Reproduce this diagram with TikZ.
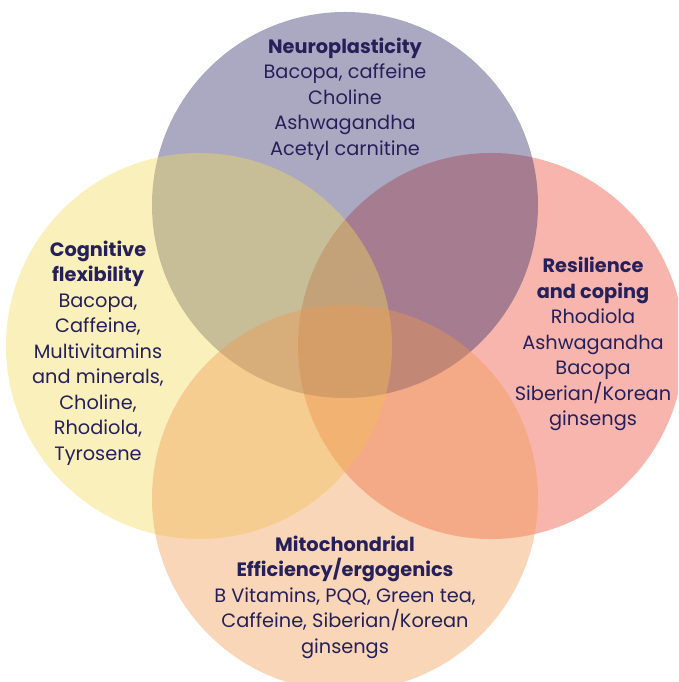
\documentclass[tikz,border=0pt]{standalone}
\usepackage{fontspec}
\setmainfont{Poppins}
\usetikzlibrary{positioning}

\definecolor{ink}{RGB}{38,32,90}
\definecolor{cpurple}{RGB}{45,40,100}
\definecolor{cyellow}{RGB}{242,218,88}
\definecolor{csalmon}{RGB}{235,70,50}
\definecolor{cpeach}{RGB}{240,153,78}

\begin{document}
\begin{tikzpicture}[x=0.03cm, y=-0.03cm,
	venn/.style={circle, inner sep=0pt, minimum size=11.58cm, fill opacity=0.4},
	txt/.style={text=ink, align=center, inner sep=0pt, font=\fontsize{16.5}{21.8}\selectfont}]
	\useasboundingbox (0,0) rectangle (678,682);
	\clip (0,0) rectangle (678,682);
	% the four sets, drawn back to front
	\node (res) [venn, fill=csalmon] at (491,346) {};
	\node (neuro) [venn, fill=cpurple] at (345,205) {};
	\node (cog) [venn, fill=cyellow] at (199,346) {};
	\node (mito) [venn, fill=cpeach] at (345,498) {};
	% labels
	\node (neurotxt) [txt] at (345,99) {\textbf{Neuroplasticity}\\Bacopa, caffeine\\Choline\\Ashwagandha\\Acetyl carnitine};
	\node (cogtxt) [txt] at (98,353) {\textbf{Cognitive}\\\textbf{flexibility}\\Bacopa,\\Caffeine,\\Multivitamins\\and minerals,\\Choline,\\Rhodiola,\\Tyrosene};
	\node (restxt) [txt] at (593,344) {\textbf{Resilience}\\\textbf{and coping}\\Rhodiola\\Ashwagandha\\Bacopa\\Siberian/Korean\\ginsengs};
	\node (mitotxt) [txt] at (345,597) {\textbf{Mitochondrial}\\\textbf{Efficiency/ergogenics}\\B Vitamins, PQQ, Green tea,\\Caffeine, Siberian/Korean\\ginsengs};
\end{tikzpicture}
\end{document}
